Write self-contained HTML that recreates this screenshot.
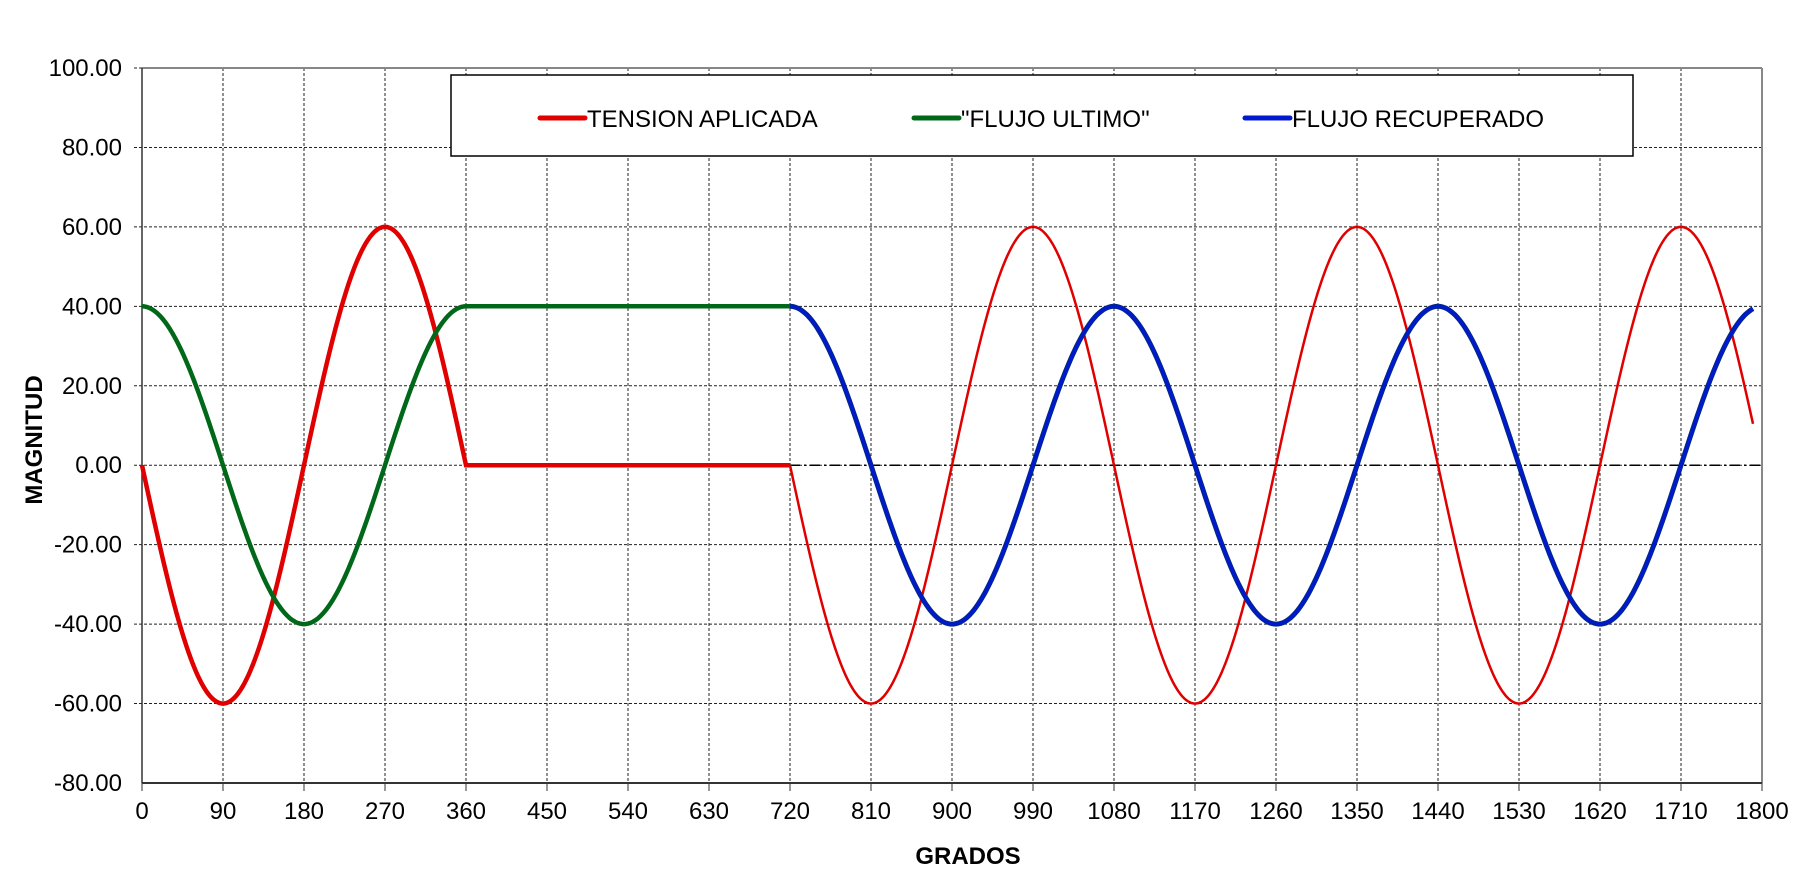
<!DOCTYPE html>
<html><head><meta charset="utf-8"><style>body{margin:0;background:#fff}svg{display:block}text{font-family:"Liberation Sans",Arial,sans-serif}</style></head>
<body>
<svg id="s" width="1805" height="875" xmlns="http://www.w3.org/2000/svg"></svg>
<script>
const s=document.getElementById('s');
const X0=142,X1=1762,YT=68,YB=783;
const xp=d=>X0+d*(X1-X0)/1800, yp=v=>YT+(100-v)*(YB-YT)/180;
let h='';
for(let d=90;d<1800;d+=90)h+=`<line x1="${xp(d)}" y1="${YT}" x2="${xp(d)}" y2="${YB}" stroke="#222" stroke-width="1" stroke-dasharray="3,2"/>`;
for(let v=-60;v<=80;v+=20)h+=`<line x1="${X0-8}" y1="${yp(v)}" x2="${X1}" y2="${yp(v)}" stroke="#222" stroke-width="1" stroke-dasharray="3,2"/>`;
h+=`<line x1="${X0-8}" y1="${YT}" x2="${X0}" y2="${YT}" stroke="#222" stroke-dasharray="3,2"/>`;
h+=`<line x1="${X0}" y1="${YT}" x2="${X1}" y2="${YT}" stroke="#888" stroke-width="2"/>`;
h+=`<line x1="${X1}" y1="${YT}" x2="${X1}" y2="${YB}" stroke="#888" stroke-width="2"/>`;
h+=`<line x1="${X0}" y1="${YT}" x2="${X0}" y2="${YB}" stroke="#333" stroke-width="1.5"/>`;
h+=`<line x1="${X0}" y1="${YB}" x2="${X1}" y2="${YB}" stroke="#333" stroke-width="2"/>`;
for(let d=0;d<=1800;d+=90){h+=`<line x1="${xp(d)}" y1="${YB}" x2="${xp(d)}" y2="${YB+8}" stroke="#333"/>`;
h+=`<text x="${xp(d)}" y="${YB+36}" font-size="24" text-anchor="middle">${d}</text>`;}
for(let v=-80;v<=100;v+=20)h+=`<text x="122" y="${yp(v)+8}" font-size="24" text-anchor="end">${v.toFixed(2)}</text>`;
h+=`<text x="968" y="864" font-size="24" font-weight="bold" text-anchor="middle">GRADOS</text>`;
h+=`<text transform="translate(42,440) rotate(-90)" font-size="24" font-weight="bold" text-anchor="middle">MAGNITUD</text>`;
h+=`<line x1="${xp(720)}" y1="${yp(0)}" x2="${X1}" y2="${yp(0)}" stroke="#000" stroke-width="1.5" stroke-dasharray="10,4,2,4"/>`;
const R=Math.PI/180;
function path(f,a,b){let p='';for(let d=a;d<=b;d+=2)p+=(p?'L':'M')+xp(d).toFixed(1)+','+yp(f(d)).toFixed(1);return p;}
h+=`<path d="${path(d=>d<=360?-60*Math.sin(d*R):0,0,720)}" fill="none" stroke="#e00000" stroke-width="4.5"/>`;
h+=`<path d="${path(d=>-60*Math.sin(d*R),720,1790)}" fill="none" stroke="#e00000" stroke-width="2.5"/>`;
h+=`<path d="${path(d=>d<=360?40*Math.cos(d*R):40,0,720)}" fill="none" stroke="#006818" stroke-width="4.5"/>`;
h+=`<path d="${path(d=>40*Math.cos(d*R),720,1790)}" fill="none" stroke="#002a80" stroke-width="5"/>`;
h+=`<path d="${path(d=>40*Math.cos(d*R),720,1790)}" fill="none" stroke="#0018d0" stroke-width="3"/>`;
h+=`<rect x="451" y="75" width="1182" height="81" fill="#fff" stroke="#000" stroke-width="1.5"/>`;
[[540,'#e00000','TENSION APLICADA'],[914,'#006818','"FLUJO ULTIMO"'],[1245,'#0018d0','FLUJO RECUPERADO']].forEach(([x,c,t])=>{
h+=`<line x1="${x}" y1="118" x2="${x+45}" y2="118" stroke="${c}" stroke-width="5" stroke-linecap="round"/>`;
h+=`<text x="${x+47}" y="127" font-size="24">${t}</text>`;});
s.innerHTML=h;
</script>
</body></html>
